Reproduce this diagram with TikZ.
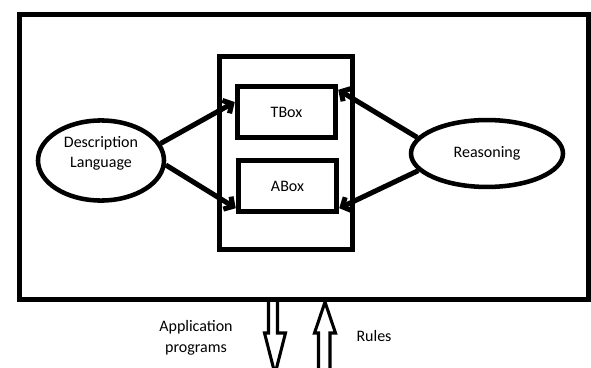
\documentclass[tikz,border=0pt]{standalone}
\usepackage{fontspec}
\setmainfont{Carlito}
\usepackage{tikz}
\usetikzlibrary{arrows.meta,positioning,calc,shapes.geometric}

\begin{document}
\begin{tikzpicture}[
    x=0.75pt, y=-0.75pt,
    outerbox/.style={rectangle, draw=black, line width=4.1pt,
                minimum width=427pt, minimum height=214pt},
    innerbox/.style={rectangle, draw=black, line width=3.4pt,
                minimum width=100pt, minimum height=145pt},
    kbox/.style={rectangle, draw=black, line width=3.6pt,
                minimum width=74pt, minimum height=38pt,
                font=\fontsize{12}{15}\selectfont},
    ellnode/.style={ellipse, draw=black, line width=3.4pt,
                font=\fontsize{12}{15}\selectfont, align=center},
    link/.style={line width=3.8pt,
                -{Straight Barb[length=5pt,width=11pt]}},
    blockarrow/.style={draw=black, line width=2.3pt, line join=miter},
    lbl/.style={font=\fontsize{12}{15.5}\selectfont, align=center},
]
\useasboundingbox (0,0) rectangle (591,367);
\clip (0,0) rectangle (591,367);

% frame and knowledge base
\node[outerbox] (kb) at (304,157) {};
\node[innerbox] (store) at (286,153) {};
\node[kbox] (tbox) at (286.5,112) {TBox};
\node[kbox] (abox) at (287.5,186) {ABox};

% the two ellipses
\node[ellnode, minimum width=94.5pt, minimum height=54.8pt, text depth=12.5pt]
    (dl) at (101,160.5) {Description\\Language};
\node[ellnode, minimum width=114pt, minimum height=50.2pt]
    (reas) at (487,153.5) {Reasoning};

% links
\draw[link] (dl.16) -- ($(tbox.north west)!0.32!(tbox.south west)$);
\draw[link] (dl.-4) -- ($(abox.north west)!0.9!(abox.south west)$);
\draw[link] (reas.167) -- ($(tbox.north east)!0.1!(tbox.south east)$);
\draw[link] (reas.194) -- ($(abox.north east)!0.9!(abox.south east)$);

% in and out of the system
\draw[blockarrow] (268.5,301) -- (268.5,333) -- (264.5,333) -- (275,374)
    -- (285.5,333) -- (277.5,333) -- (277.5,301);
\draw[blockarrow] (318.5,372) -- (318.5,333) -- (314.5,333) -- (325,302)
    -- (335.5,333) -- (330,333) -- (330,372);

\node[lbl] (apps) at (196,337.5) {Application\\programs};
\node[lbl] (rules) at (374,336) {Rules};

\end{tikzpicture}
\end{document}
